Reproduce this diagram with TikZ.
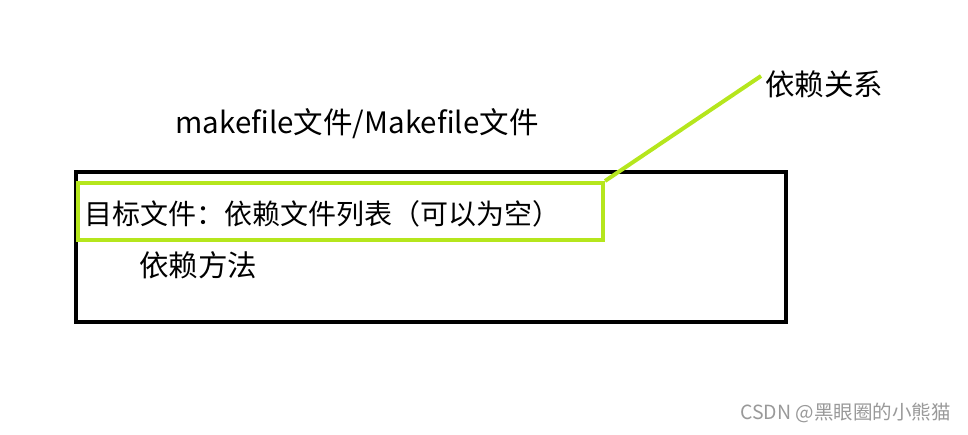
\documentclass[tikz,border=0pt]{standalone}
\usepackage{fontspec}
\setmainfont{Noto Sans CJK SC}
\definecolor{lime}{RGB}{181,230,29}
\tikzset{
  txt/.style={inner sep=0pt, font=\fontsize{29.5}{31}\selectfont},
  mark box/.style={draw=lime, line width=4pt},
}
\begin{document}
\begin{tikzpicture}[x=1pt,y=-1pt]
\useasboundingbox (0,0) rectangle (968,435);
\draw[line width=4pt] (76,172) rectangle (786,322);
\node[txt] (title) at (357,124) {makefile文件/Makefile文件};
\node[mark box, minimum width=525pt, minimum height=57pt, inner sep=0pt] (dep) at (340.5,211.5) {};
\node[txt, anchor=west, font=\fontsize{28}{30}\selectfont] (target) at (84,214) {目标文件：依赖文件列表（可以为空）};
\node[txt, anchor=west] (method) at (139,265) {依赖方法};
\node[txt, anchor=west] (rel) at (765,84) {依赖关系};
\draw[lime, line width=4pt] (dep.north east) -- ([xshift=-4pt,yshift=8pt]rel.west);
\node[inner sep=0pt, anchor=east, text=black!40, font=\fontsize{19.5}{21}\selectfont] (mark) at (951,413) {CSDN @黑眼圈的小熊猫};
\end{tikzpicture}
\end{document}
